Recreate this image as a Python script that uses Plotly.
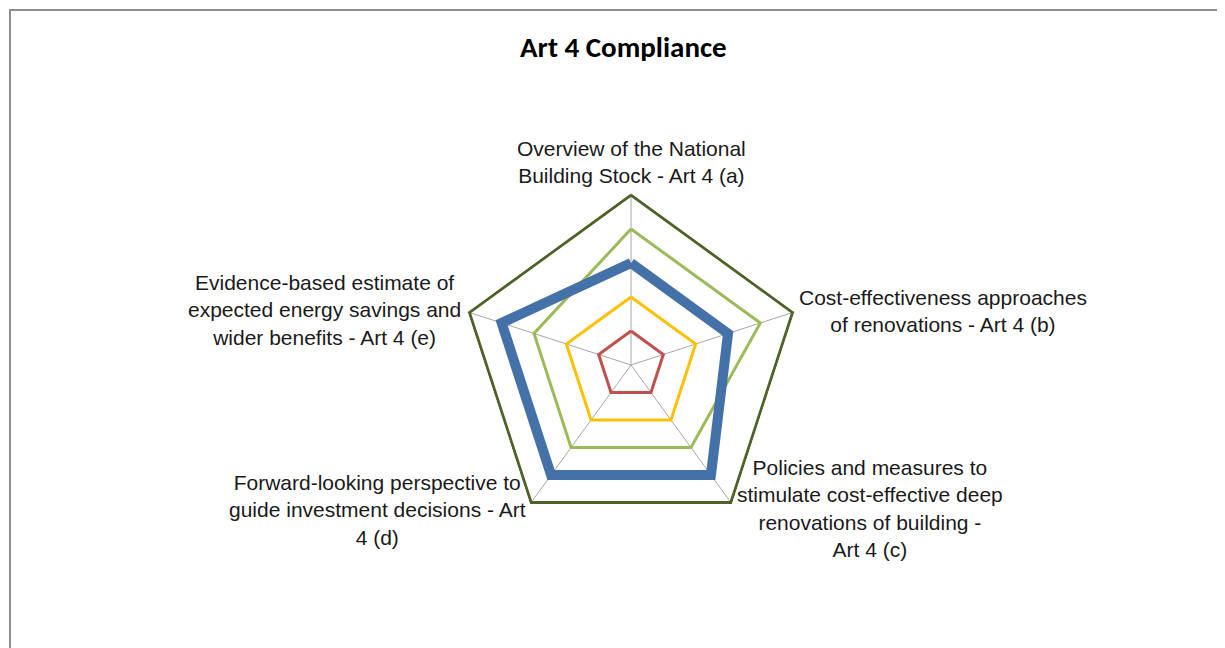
import math
import plotly.graph_objects as go

categories = ["a", "b", "c", "d", "e"]
labels = [
    "Overview of the National<br>Building Stock - Art 4 (a)",
    "Cost-effectiveness approaches<br>of renovations - Art 4 (b)",
    "Policies and measures to<br>stimulate cost-effective deep<br>renovations of building -<br>Art 4 (c)",
    "Forward-looking perspective to<br>guide investment decisions - Art<br>4 (d)",
    "Evidence-based estimate of<br>expected energy savings and<br>wider benefits - Art 4 (e)",
]
level_1 = [1, 1, 1, 1, 1]
level_2 = [2, 2, 2, 2, 2]
series_green = [4, 4, 3, 3, 3]
series_blue = [3, 3, 4, 4, 4]
level_5 = [5, 5, 5, 5, 5]

W, H = 1225, 648
PAGE = 8  # body margin of the html page
RMAX = 5.05
CX, CY, R = 631 - PAGE, 365 - PAGE, 170  # R = pixel radius of value 5
RD = R * RMAX / 5

fig = go.Figure()

def add(vals, color, width):
    fig.add_trace(go.Scatterpolar(
        r=vals + vals[:1], theta=categories + categories[:1],
        mode="lines", line=dict(color=color, width=width), cliponaxis=False,
        showlegend=False, hoverinfo="skip"))

add(level_1, "#C0504D", 3)
add(level_2, "#FFC000", 3)
add(series_green, "#9BBB59", 3)
add(series_blue, "#4471A8", 10)
add(level_5, "#4F6228", 3)

fig.update_layout(
    width=W, height=H,
    margin=dict(l=0, r=0, t=0, b=0),
    paper_bgcolor="white",
    polar=dict(
        domain=dict(x=[(CX - RD) / W, (CX + RD) / W], y=[1 - (CY + RD) / H, 1 - (CY - RD) / H]),
        gridshape="linear",
        bgcolor="white",
        angularaxis=dict(direction="clockwise", rotation=90, showticklabels=False,
                         ticks="", showline=False, showgrid=True,
                         gridcolor="#A6A6A6", gridwidth=1),
        radialaxis=dict(range=[0, RMAX], showgrid=False, showline=False,
                        showticklabels=False, ticks=""),
    ),
    font=dict(family="Liberation Sans, Arial, sans-serif", color="#1a1a1a"),
)

# category labels placed next to each vertex of the radar
offsets = [
    (0, -6, "center", "bottom"),
    (4, -1, "left", "middle"),
    (4, 6, "left", "middle"),
    (-3, 7, "right", "middle"),
    (-6, -2, "right", "middle"),
]
for i, (lab, (dx, dy, xa, ya)) in enumerate(zip(labels, offsets)):
    ang = math.radians(90 - i * 72)
    vx = CX + R * math.cos(ang)
    vy = CY - R * math.sin(ang)
    fig.add_annotation(x=(vx + dx) / W, y=1 - (vy + dy) / H, xref="paper", yref="paper",
                       text=lab, showarrow=False, xanchor=xa, yanchor=ya, align="center",
                       font=dict(size=21, family="Liberation Sans, Arial, sans-serif", color="#1a1a1a"))

fig.add_annotation(x=(623 - PAGE) / W, y=1 - (47 - PAGE) / H, xref="paper", yref="paper",
                   text="<b>Art 4 Compliance</b>", showarrow=False, xanchor="center", yanchor="middle",
                   font=dict(size=29, family="Carlito, Lato, sans-serif", color="#000000"))

fig.add_shape(type="rect", xref="paper", yref="paper",
              x0=(10 - PAGE) / W, x1=1.05, y0=-0.05, y1=1 - (10 - PAGE) / H,
              line=dict(color="#8C8C8C", width=2), fillcolor="rgba(0,0,0,0)")

fig.write_html("out.html")
